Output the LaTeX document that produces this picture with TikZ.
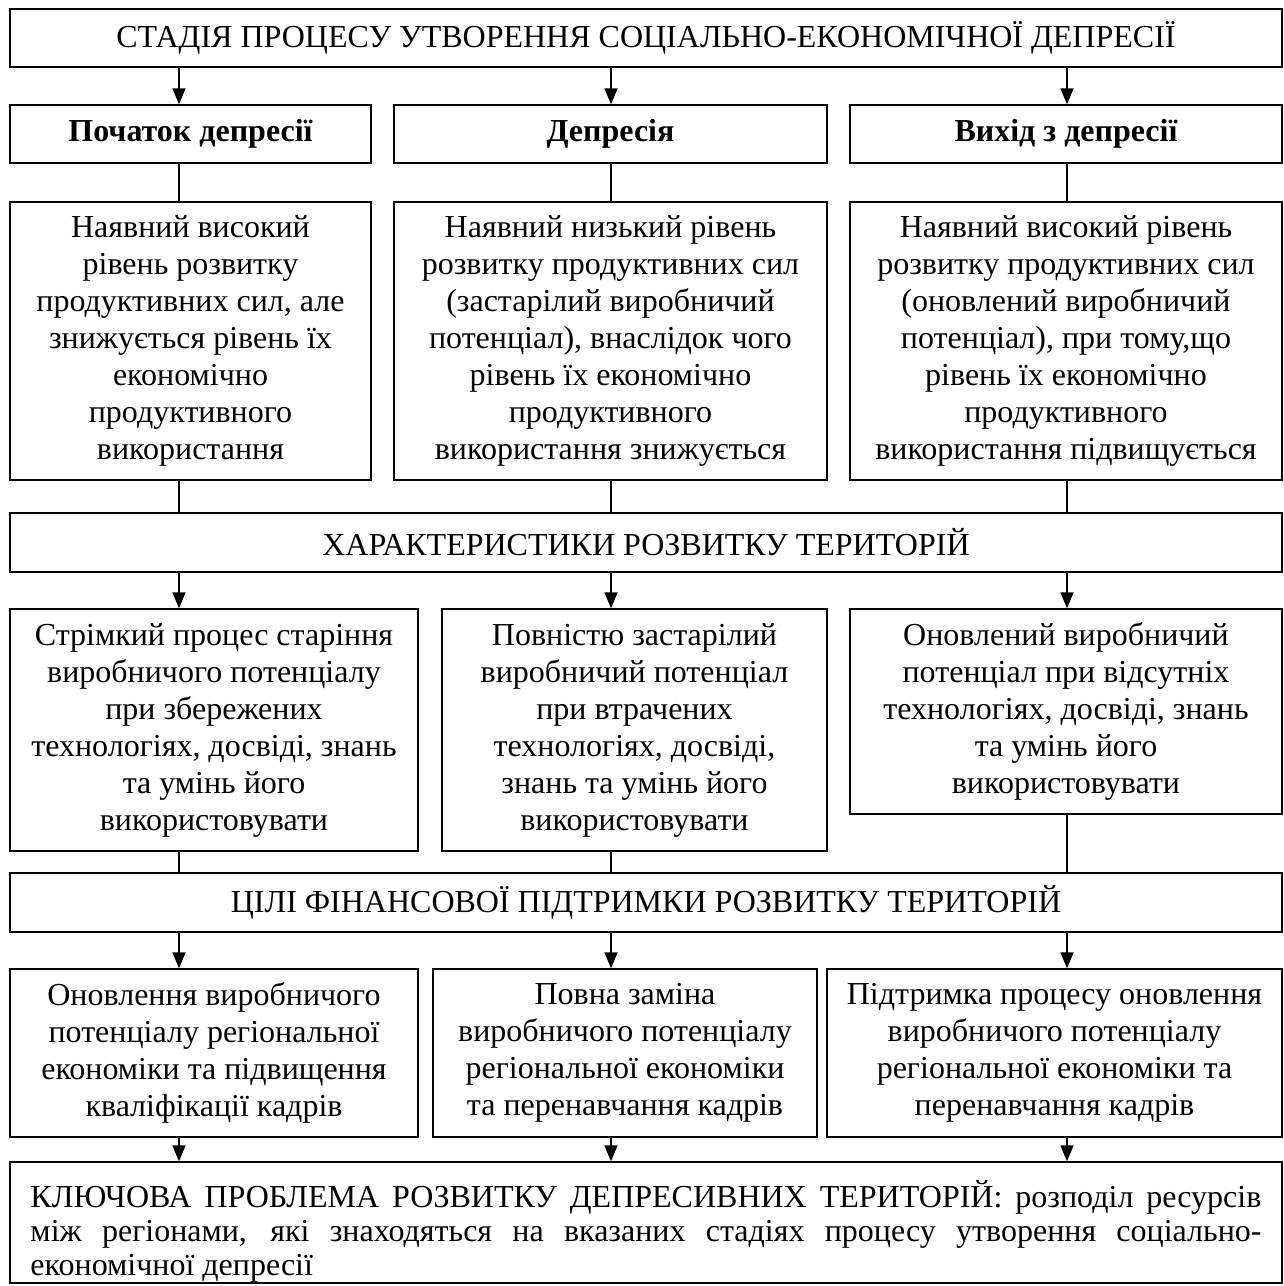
\documentclass[tikz,border=0pt]{standalone}
\usepackage{fontspec}
\setmainfont{Liberation Serif}
\usetikzlibrary{arrows.meta}

\newcommand{\boxfont}{\fontsize{32}{37}\selectfont}
\newcommand{\keyfont}{\fontsize{32}{34}\selectfont}

\tikzset{
  box/.style={draw, line width=1.4pt, align=center, inner sep=0pt, font=\boxfont},
  plaintext/.style={align=left, inner sep=0pt, font=\keyfont},
  link/.style={line width=1.4pt},
  arr/.style={line width=1.4pt, -{Triangle[length=16pt,width=13pt]}}
}

\begin{document}
\begin{tikzpicture}[x=1pt, y=-1pt]
\useasboundingbox (0,0) rectangle (1284,1286);

% column axes for the connectors
\coordinate (c1) at (179,0);
\coordinate (c2) at (611,0);
\coordinate (c3) at (1067,0);

% stage header
\node[box, minimum width=1272pt, minimum height=58pt] (top) at (646,38)
  {СТАДІЯ ПРОЦЕСУ УТВОРЕННЯ СОЦІАЛЬНО-ЕКОНОМІЧНОЇ ДЕПРЕСІЇ};

% stages
\node[box, font=\boxfont\bfseries, minimum width=361pt, minimum height=58pt] (sa) at (190.5,134) {Початок депресії};
\node[box, font=\boxfont\bfseries, minimum width=433pt, minimum height=58pt] (sb) at (610.5,134) {Депресія};
\node[box, font=\boxfont\bfseries, minimum width=432pt, minimum height=58pt] (sc) at (1066,134) {Вихід з депресії};

% stage descriptions
\node[box, minimum width=361pt, minimum height=278pt] (da) at (190.5,341)
  {Наявний високий\\ рівень розвитку\\ продуктивних сил, але\\ знижується рівень їх\\ економічно\\ продуктивного\\ використання};
\node[box, minimum width=433pt, minimum height=278pt] (db) at (610.5,341)
  {Наявний низький рівень\\ розвитку продуктивних сил\\ (застарілий виробничий\\ потенціал), внаслідок чого\\ рівень їх економічно\\ продуктивного\\ використання знижується};
\node[box, minimum width=432pt, minimum height=278pt] (dc) at (1066,341)
  {Наявний високий рівень\\ розвитку продуктивних сил\\ (оновлений виробничий\\ потенціал), при тому,що\\ рівень їх економічно\\ продуктивного\\ використання підвищується};

% characteristics header
\node[box, minimum width=1272pt, minimum height=59pt] (chr) at (646,542.5)
  {ХАРАКТЕРИСТИКИ РОЗВИТКУ ТЕРИТОРІЙ};

% characteristics
\node[box, minimum width=408pt, minimum height=242pt] (ca) at (214,730)
  {Стрімкий процес старіння\\ виробничого потенціалу\\ при збережених\\ технологіях, досвіді, знань\\ та умінь його\\ використовувати};
\node[box, minimum width=385pt, minimum height=242pt] (cb) at (634.5,730)
  {Повністю застарілий\\ виробничий потенціал\\ при втрачених\\ технологіях, досвіді,\\ знань та умінь його\\ використовувати};
\node[box, minimum width=432pt, minimum height=205pt] (cc) at (1066,711.5)
  {Оновлений виробничий\\ потенціал при відсутніх\\ технологіях, досвіді, знань\\ та умінь його\\ використовувати};

% goals header
\node[box, minimum width=1272pt, minimum height=59pt] (goal) at (646,902.5)
  {ЦІЛІ ФІНАНСОВОЇ ПІДТРИМКИ РОЗВИТКУ ТЕРИТОРІЙ};

% goals
\node[box, minimum width=408pt, minimum height=168pt] (ga) at (214,1053)
  {Оновлення виробничого\\ потенціалу регіональної\\ економіки та підвищення\\ кваліфікації кадрів};
\node[box, minimum width=384pt, minimum height=168pt] (gb) at (625,1053)
  {Повна заміна\\ виробничого потенціалу\\ регіональної економіки\\ та перенавчання кадрів};
\node[box, minimum width=455pt, minimum height=168pt] (gc) at (1054.5,1053)
  {Підтримка процесу оновлення\\ виробничого потенціалу\\ регіональної економіки та\\ перенавчання кадрів};

% key problem: frame and justified text
\node[box, minimum width=1272pt, minimum height=121pt] (key) at (646,1222.5) {};
\node[plaintext] (keytext) at ([yshift=-9pt]key.center)
  {\makebox[1231pt][s]{КЛЮЧОВА ПРОБЛЕМА РОЗВИТКУ ДЕПРЕСИВНИХ ТЕРИТОРІЙ: розподіл ресурсів}\\
   \makebox[1231pt][s]{між регіонами, які знаходяться на вказаних стадіях процесу утворення соціально-}\\
   \makebox[1231pt][l]{економічної депресії}};

% connectors
\draw[arr] (top.south -| c1) -- (sa.north -| c1);
\draw[arr] (top.south -| c2) -- (sb.north -| c2);
\draw[arr] (top.south -| c3) -- (sc.north -| c3);

\draw[link] (sa.south -| c1) -- (da.north -| c1);
\draw[link] (sb.south -| c2) -- (db.north -| c2);
\draw[link] (sc.south -| c3) -- (dc.north -| c3);

\draw[link] (da.south -| c1) -- (chr.north -| c1);
\draw[link] (db.south -| c2) -- (chr.north -| c2);
\draw[link] (dc.south -| c3) -- (chr.north -| c3);

\draw[arr] (chr.south -| c1) -- (ca.north -| c1);
\draw[arr] (chr.south -| c2) -- (cb.north -| c2);
\draw[arr] (chr.south -| c3) -- (cc.north -| c3);

\draw[link] (ca.south -| c1) -- (goal.north -| c1);
\draw[link] (cb.south -| c2) -- (goal.north -| c2);
\draw[link] (cc.south -| c3) -- (goal.north -| c3);

\draw[arr] (goal.south -| c1) -- (ga.north -| c1);
\draw[arr] (goal.south -| c2) -- (gb.north -| c2);
\draw[arr] (goal.south -| c3) -- (gc.north -| c3);

\draw[arr] (ga.south -| c1) -- (key.north -| c1);
\draw[arr] (gb.south -| c2) -- (key.north -| c2);
\draw[arr] (gc.south -| c3) -- (key.north -| c3);
\end{tikzpicture}
\end{document}
